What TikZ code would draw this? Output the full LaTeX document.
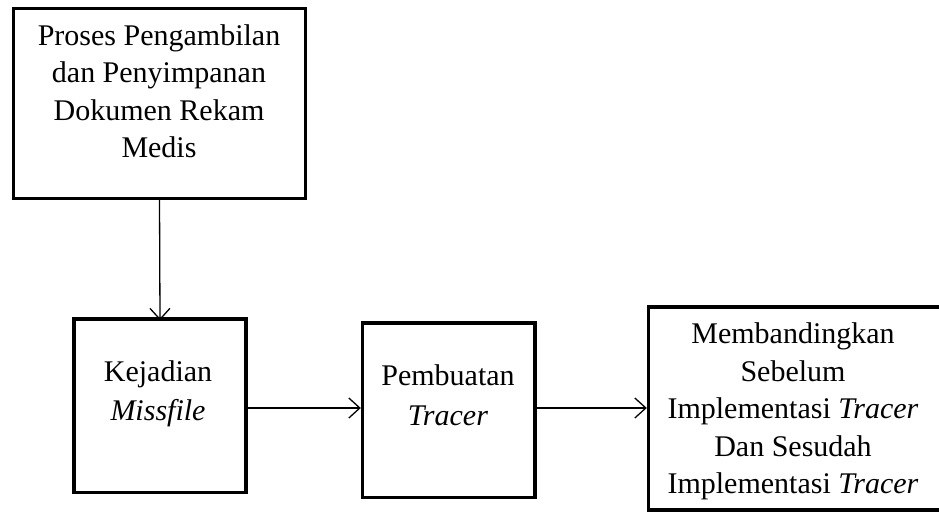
\documentclass[tikz,border=0pt]{standalone}
\usepackage{fontspec}
\setmainfont{Liberation Serif}
\usetikzlibrary{arrows.meta}
\begin{document}
\begin{tikzpicture}[x=1pt,y=-1pt,
  boxstyle/.style={draw=black, line width=3.4pt, fill=white},
  txt/.style={inner sep=0pt, anchor=north, align=center, font=\fontsize{30}{37.5}\selectfont},
  conn/.style={draw=black, line width=1.3pt, -{Straight Barb[length=11pt,width=20pt,line width=1.3pt]}}]
\useasboundingbox (0,0) rectangle (939,513);
\clip (0,0) rectangle (939,513);
\fill[white] (0,0) rectangle (939,513);
\path[boxstyle] (13.5,8.5) rectangle (305.5,198.5);
\node[inner sep=0pt, minimum width=292pt, minimum height=190pt] (b1) at (159.5,103.5) {};
\path[boxstyle] (74,319) rectangle (246,492.5);
\node[inner sep=0pt, minimum width=172pt, minimum height=173.5pt] (b2) at (160,405.75) {};
\path[boxstyle] (362.5,323) rectangle (535,497.5);
\node[inner sep=0pt, minimum width=172.5pt, minimum height=174.5pt] (b3) at (448.75,410.25) {};
\path[boxstyle] (648.5,307) rectangle (945,510);
\node[inner sep=0pt, minimum width=296.5pt, minimum height=203pt] (b4) at (796.75,408.5) {};
\node[txt] (t1) at (159,24) {Proses Pengambilan\\dan Penyimpanan\\Dokumen Rekam\\Medis};
\node[txt, font=\fontsize{30}{39}\selectfont] (t2) at (158,360.5) {Kejadian\\\textit{Missfile}};
\node[txt, font=\fontsize{30}{40}\selectfont] (t3) at (448,364.5) {Pembuatan\\\textit{Tracer}};
\node[txt] (t4) at (793,322.5) {Membandingkan\\Sebelum\\Implementasi \textit{Tracer}\\Dan Sesudah\\Implementasi \textit{Tracer}};
\draw[conn] (b1.south) -- ([yshift=-1.5pt]b2.north);
\draw[conn] (b2.east |- 0,408) -- ([xshift=-1.5pt]b3.west |- 0,408);
\draw[conn] (b3.east |- 0,408) -- ([xshift=-1.5pt]b4.west |- 0,408);
\end{tikzpicture}
\end{document}
